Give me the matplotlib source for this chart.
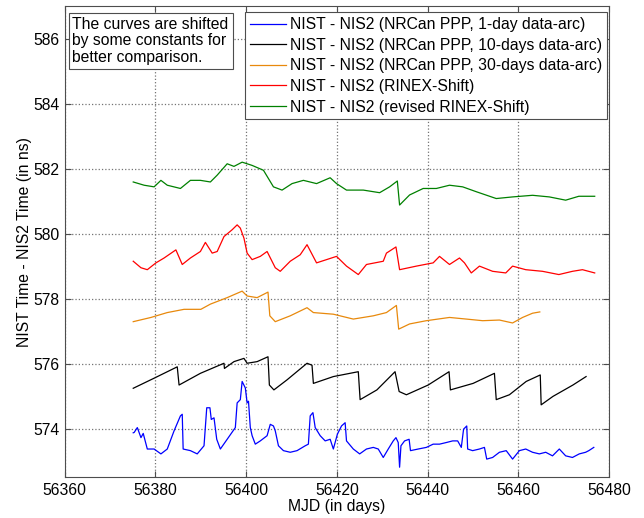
import numpy as np
import matplotlib
matplotlib.use("Agg")
import matplotlib.pyplot as plt

plt.rcParams['font.family'] = ['Liberation Sans', 'DejaVu Sans']

# NRCan PPP, 1-day data-arc
mjd_1d = [56375.1, 56375.3, 56376.0, 56376.8, 56377.3, 56378.2, 56379.7, 56381.2, 56382.6,
          56384.1, 56385.5, 56385.9, 56386.1, 56387.7, 56389.2, 56390.7, 56391.3, 56392.0,
          56392.3, 56392.9, 56393.5, 56394.3, 56395.8, 56397.6, 56398.0, 56398.7, 56399.1,
          56399.8, 56400.2, 56400.5, 56400.9, 56401.3, 56402.0, 56403.1, 56404.6, 56405.3,
          56406.0, 56406.4, 56407.1, 56408.2, 56409.7, 56411.2, 56413.0, 56413.7, 56414.1,
          56414.7, 56415.2, 56416.3, 56417.4, 56418.5, 56419.2, 56420.1, 56421.0, 56421.8,
          56422.1, 56423.6, 56425.0, 56426.5, 56428.0, 56429.1, 56430.2, 56431.3, 56432.4,
          56433.0, 56433.5, 56433.8, 56434.1, 56434.9, 56435.9, 56436.2, 56437.9, 56439.7,
          56441.2, 56442.6, 56444.1, 56445.5, 56446.6, 56447.4, 56447.9, 56448.6, 56448.8,
          56449.9, 56451.4, 56452.5, 56453.0, 56454.3, 56455.8, 56457.3, 56458.7, 56460.2,
          56461.6, 56463.1, 56464.6, 56466.0, 56467.5, 56469.0, 56470.4, 56471.9, 56473.4,
          56474.8, 56475.5, 56476.6]
val_1d = [573.87, 573.88, 574.03, 573.72, 573.85, 573.37, 573.37, 573.22, 573.37,
          573.93, 574.39, 574.44, 573.37, 573.32, 573.22, 573.47, 574.64, 574.64,
          574.28, 574.33, 573.67, 573.37, 573.67, 574.03, 574.79, 574.89, 575.45,
          575.25, 574.79, 574.84, 574.03, 573.78, 573.52, 573.62, 573.78, 574.13,
          574.08, 573.93, 573.47, 573.32, 573.27, 573.32, 573.47, 573.52, 574.39,
          574.49, 574.03, 573.78, 573.62, 573.67, 573.37, 573.83, 574.08, 574.18,
          573.62, 573.37, 573.22, 573.37, 573.42, 573.37, 573.11, 573.37, 573.62,
          573.72, 573.57, 572.81, 573.47, 573.62, 573.67, 573.32, 573.37, 573.42,
          573.52, 573.52, 573.57, 573.62, 573.62, 573.42, 573.98, 574.08, 573.37,
          573.32, 573.37, 573.42, 573.06, 573.11, 573.27, 573.32, 573.06, 573.32,
          573.37, 573.27, 573.22, 573.27, 573.16, 573.37, 573.16, 573.11, 573.22,
          573.27, 573.32, 573.42]

# NRCan PPP, 10-days data-arc
mjd_10d = [56375.1, 56379.7, 56384.8, 56385.2, 56389.9, 56395.1, 56395.2, 56397.3, 56399.5,
           56400.2, 56402.4, 56404.8, 56405.1, 56406.1, 56409.0, 56413.4, 56414.5, 56414.8,
           56419.2, 56424.7, 56425.1, 56428.8, 56432.8, 56433.7, 56435.3, 56440.1, 56444.7,
           56445.0, 56450.0, 56454.7, 56455.1, 56458.0, 56461.7, 56464.8, 56465.0, 56467.6,
           56472.0, 56474.9]
val_10d = [575.24, 575.55, 575.90, 575.34, 575.70, 576.01, 575.85, 576.06, 576.16,
           576.01, 576.06, 576.21, 575.34, 575.19, 575.50, 576.01, 575.95, 575.39,
           575.60, 575.75, 574.89, 575.19, 575.75, 575.14, 575.04, 575.34, 575.75,
           575.19, 575.39, 575.70, 574.89, 575.04, 575.45, 575.65, 574.73, 574.99,
           575.34, 575.60]

# NRCan PPP, 30-days data-arc
mjd_30d = [56375.1, 56379.0, 56382.6, 56386.3, 56390.0, 56392.1, 56395.8, 56399.1, 56400.2,
           56402.4, 56404.8, 56405.2, 56406.4, 56409.7, 56413.4, 56414.8, 56419.2, 56423.6,
           56428.0, 56430.9, 56433.1, 56433.6, 56436.0, 56439.7, 56444.8, 56448.5, 56452.1,
           56455.8, 56458.7, 56460.9, 56463.1, 56464.7]
val_30d = [577.29, 577.42, 577.57, 577.67, 577.67, 577.83, 578.03, 578.23, 578.08,
           578.03, 578.20, 577.47, 577.29, 577.47, 577.72, 577.57, 577.52, 577.37,
           577.47, 577.57, 577.79, 577.06, 577.22, 577.32, 577.42, 577.37, 577.32,
           577.34, 577.25, 577.42, 577.55, 577.59]

# RINEX-Shift
mjd_rs = [56375.1, 56376.8, 56378.2, 56380.1, 56381.9, 56384.5, 56385.9, 56387.7, 56389.9,
          56391.0, 56392.5, 56393.6, 56395.1, 56396.9, 56398.0, 56398.7, 56399.5, 56400.2,
          56401.3, 56403.1, 56404.6, 56406.4, 56407.5, 56409.7, 56411.9, 56413.4, 56415.5,
          56417.7, 56419.9, 56422.1, 56424.7, 56426.5, 56430.2, 56430.9, 56433.0, 56433.8,
          56437.5, 56441.2, 56442.6, 56444.8, 56447.0, 56448.1, 56449.6, 56451.4, 56454.3,
          56457.2, 56458.7, 56461.6, 56465.3, 56468.9, 56471.9, 56474.1, 56476.8]
val_rs = [579.15, 578.95, 578.89, 579.10, 579.25, 579.50, 579.05, 579.25, 579.45,
          579.73, 579.40, 579.45, 579.91, 580.12, 580.27, 580.17, 579.86, 579.40,
          579.20, 579.30, 579.45, 578.95, 578.84, 579.15, 579.35, 579.66, 579.10,
          579.20, 579.30, 579.00, 578.74, 579.05, 579.15, 579.40, 579.59, 578.89,
          579.00, 579.10, 579.30, 579.05, 579.25, 579.10, 578.79, 579.00, 578.84,
          578.79, 579.00, 578.89, 578.84, 578.74, 578.84, 578.89, 578.79]

# revised RINEX-Shift
mjd_rrs = [56375.1, 56377.5, 56379.7, 56381.2, 56382.6, 56385.5, 56387.7, 56389.9, 56392.1,
           56393.6, 56395.8, 56397.3, 56399.1, 56401.3, 56403.8, 56406.0, 56407.9, 56410.1,
           56412.6, 56415.5, 56418.5, 56419.9, 56422.1, 56425.8, 56429.4, 56431.6, 56433.3,
           56433.8, 56436.0, 56439.0, 56441.9, 56444.8, 56447.7, 56450.7, 56455.1, 56458.7,
           56463.1, 56466.8, 56470.4, 56473.3, 56476.8]
val_rrs = [581.59, 581.49, 581.44, 581.64, 581.49, 581.39, 581.64, 581.64, 581.59,
           581.80, 582.15, 582.07, 582.20, 582.10, 581.95, 581.44, 581.34, 581.54,
           581.64, 581.54, 581.72, 581.54, 581.34, 581.34, 581.26, 581.44, 581.62,
           580.88, 581.19, 581.39, 581.39, 581.49, 581.44, 581.29, 581.08, 581.13,
           581.18, 581.13, 581.03, 581.15, 581.15]

labels = ['NIST - NIS2 (NRCan PPP, 1-day data-arc)',
          'NIST - NIS2 (NRCan PPP, 10-days data-arc)',
          'NIST - NIS2 (NRCan PPP, 30-days data-arc)',
          'NIST - NIS2 (RINEX-Shift)',
          'NIST - NIS2 (revised RINEX-Shift)']
colors = ['#0000ff', '#000000', '#e8890c', '#ff0000', '#008000']
series = [(mjd_1d, val_1d), (mjd_10d, val_10d), (mjd_30d, val_30d),
          (mjd_rs, val_rs), (mjd_rrs, val_rrs)]

fs = 11.3
fig = plt.figure(figsize=(6.44, 5.18), dpi=100)
ax = fig.add_axes([0.1005, 0.0786, 0.8455, 0.9094])

for (xs, ys), c, lab in zip(series, colors, labels):
    ax.plot(xs, ys, color=c, lw=0.9, label=lab)

ax.set_xlim(56360, 56480)
ax.set_ylim(572.5, 587)
ax.set_xticks(np.arange(56360, 56481, 20))
ax.set_yticks(np.arange(574, 587, 2))
ax.grid(True, linestyle=':', color='0.45', lw=0.9)
ax.tick_params(direction='in', length=4, top=True, right=True, labelsize=fs,
               color='0.3', pad=4)
for pos in ax.spines:
    ax.spines[pos].set_color('0.3')
ax.set_xlabel('MJD (in days)', fontsize=fs, labelpad=1)
ax.set_ylabel('NIST Time - NIS2 Time (in ns)', fontsize=fs, labelpad=1)

leg = ax.legend(loc='upper right', bbox_to_anchor=(606.7 / 644, 1 - 12.3 / 518),
                bbox_transform=fig.transFigure, fontsize=fs, fancybox=False,
                framealpha=1, edgecolor='0.3', handlelength=2.3, handletextpad=0.25,
                labelspacing=0.36, borderpad=0.3, borderaxespad=0)
leg.get_frame().set_linewidth(0.8)

fig.text(72.5 / 644, 1 - 17 / 518,
         'The curves are shifted\nby some constants for\nbetter comparison.',
         fontsize=fs, va='top', ha='left', linespacing=1.12,
         bbox=dict(boxstyle='square,pad=0.25', fc='white', ec='0.3', lw=0.8))

fig.savefig('out.png', dpi=100)
